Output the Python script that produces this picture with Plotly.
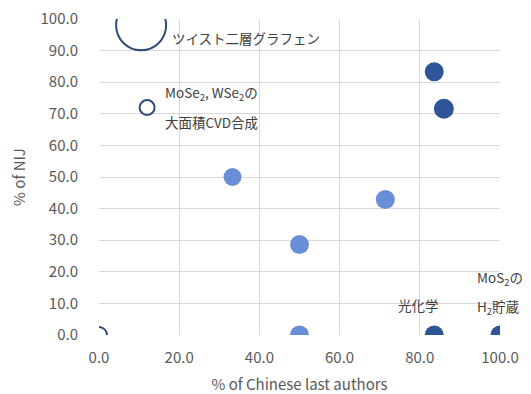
import plotly.graph_objects as go

# Data
hollow_x = [10.5, 12.0, 0.0]
hollow_y = [98.0, 72.0, 0.0]
hollow_size = [50, 15, 16]

dark_x = [83.6, 86.0, 83.6, 100.0]
dark_y = [83.3, 71.6, 0.0, 0.0]
dark_size = [19, 20, 19, 19]

light_x = [33.3, 71.4, 50.0, 50.0]
light_y = [50.0, 42.9, 28.6, 0.0]
light_size = [18, 19, 19, 19]

labels = ["ツイスト二層グラフェン", "MoSe<sub>2</sub>, WSe<sub>2</sub>の", "大面積CVD合成",
          "光化学", "MoS<sub>2</sub>の", "H<sub>2</sub>貯蔵"]
label_x = [17.6, 16.0, 16.0, 74.0, 93.8, 93.8]
label_y = [94.0, 76.6, 67.4, 9.6, 18.0, 8.8]

FONT = "Noto Sans CJK JP"

fig = go.Figure()
fig.add_trace(go.Scatter(
    x=hollow_x, y=hollow_y, mode="markers",
    marker=dict(size=hollow_size, color="rgba(0,0,0,0)", opacity=1,
                line=dict(color="#2F4B7C", width=2)),
    showlegend=False))
fig.add_trace(go.Scatter(
    x=light_x, y=light_y, mode="markers",
    marker=dict(size=light_size, color="#698DD7", opacity=1, line=dict(width=0)),
    showlegend=False))
fig.add_trace(go.Scatter(
    x=dark_x, y=dark_y, mode="markers",
    marker=dict(size=dark_size, color="#2E5597", opacity=1, line=dict(width=0)),
    showlegend=False))

for t, x, y in zip(labels, label_x, label_y):
    fig.add_annotation(x=x, y=y, text=t, showarrow=False, xanchor="left",
                       yanchor="middle", font=dict(family=FONT, size=13.5, color="#404040"))

axis_common = dict(
    range=[0, 100], dtick=20, tickformat=".1f", showline=False,
    gridcolor="#D9D9D9", gridwidth=1, zeroline=False, automargin=False,
    ticklabeloverflow="allow",
    tickfont=dict(family=FONT, size=15, color="#595959"),
    title_font=dict(family=FONT, size=15, color="#595959"),
    fixedrange=True,
)
fig.update_xaxes(**axis_common, title_text="% of Chinese last authors",
                 ticklabelstandoff=12, title_standoff=17)
fig.update_yaxes(**axis_common, title_text="% of NIJ")
fig.update_yaxes(dtick=10, ticklabelstandoff=20, title_standoff=14)

# page body has an 8px margin, so the figure is sized to fit the window
fig.update_layout(
    width=523, height=386,
    margin=dict(l=91, r=31, t=11, b=59, pad=0),
    paper_bgcolor="white", plot_bgcolor="white",
    font=dict(family=FONT),
)
fig.write_html("out.html")
